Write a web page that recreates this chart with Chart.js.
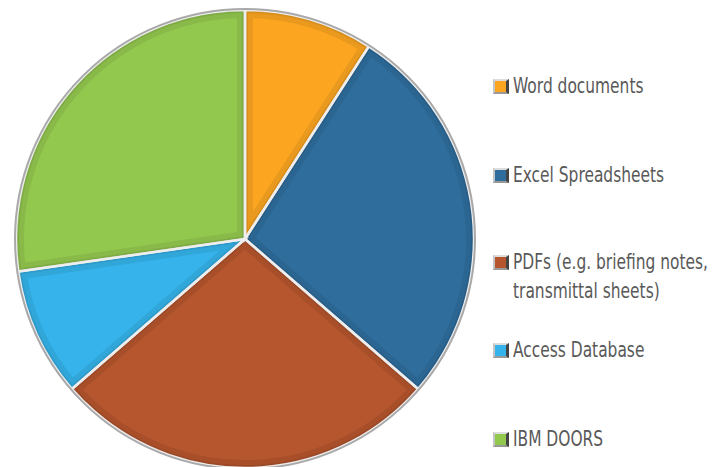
<!DOCTYPE html>
<html>
<head>
<meta charset="utf-8">
<script src="https://cdn.jsdelivr.net/npm/chart.js@4.4.0/dist/chart.umd.min.js"></script>
<style>
html,body{margin:0;padding:0;background:#fff;width:714px;height:467px;overflow:hidden;}
#wrap{position:absolute;left:14px;top:8px;width:462px;height:462px;}
#legend{position:absolute;left:493px;top:0;font-family:"DejaVu Sans",sans-serif;font-size:21px;color:#595959;}
.item{position:absolute;left:0;white-space:nowrap;line-height:29px;}
.mk{position:absolute;left:0;top:7px;width:11px;height:11px;border:2px solid #c4c4c4;border-right-color:#444;border-right-width:3px;border-bottom-color:#999;border-top-color:#ddd;}
.tx{position:absolute;left:20px;top:0;transform:scaleX(0.735);transform-origin:0 0;}
</style>
</head>
<body>
<div id="wrap"><canvas id="c"></canvas></div>
<div id="legend"></div>
<script>
const labels = ['Word documents', 'Excel Spreadsheets', ['PDFs (e.g. briefing notes,', 'transmittal sheets)'], 'Access Database', 'IBM DOORS'];
const values = [1, 3, 3, 1, 3];
const colors = ['#FBA521', '#2F6D9C', '#B5562E', '#35B3EA', '#93C84F'];
const legendTops = [72, 161, 248, 336, 425];

const bevel = {
  id:'bevel',
  afterDatasetsDraw(chart){
    const ctx = chart.ctx;
    const meta = chart.getDatasetMeta(0);
    let cx, cy, R;
    meta.data.forEach((arc,i)=>{
      const p = arc.getProps(['x','y','startAngle','endAngle','outerRadius'], true);
      cx=p.x; cy=p.y; R=p.outerRadius;
      const path = ()=>{
        ctx.beginPath();
        ctx.moveTo(p.x,p.y);
        ctx.arc(p.x,p.y,p.outerRadius,p.startAngle,p.endAngle);
        ctx.closePath();
      };
      ctx.save();
      path();
      ctx.clip();
      path();
      ctx.lineJoin='miter';
      ctx.lineWidth=16;
      ctx.strokeStyle='rgba(0,0,0,0.07)';
      ctx.stroke();
      ctx.lineWidth=6;
      ctx.strokeStyle='rgba(0,0,0,0.07)';
      ctx.stroke();
      ctx.restore();
      ctx.save();
      path();
      ctx.lineWidth=2.5;
      ctx.strokeStyle='#eeeeee';
      ctx.stroke();
      ctx.restore();
    });
    ctx.save();
    ctx.beginPath();
    ctx.arc(cx,cy,R+1,0,Math.PI*2);
    ctx.lineWidth=2;
    ctx.strokeStyle='#a9a9a9';
    ctx.stroke();
    ctx.restore();
  }
};

new Chart(document.getElementById('c'), {
  type:'pie',
  data:{
    labels: labels,
    datasets:[{
      data: values,
      backgroundColor: colors,
      borderWidth: 0
    }]
  },
  options:{
    responsive:true,
    maintainAspectRatio:false,
    animation:false,
    layout:{padding:2},
    plugins:{legend:{display:false}, tooltip:{enabled:false}}
  },
  plugins:[bevel]
});

const lg = document.getElementById('legend');
labels.forEach((l,i)=>{
  const d = document.createElement('div');
  d.className='item';
  d.style.top = legendTops[i]+'px';
  const m = document.createElement('div');
  m.className='mk';
  m.style.background = colors[i];
  const t = document.createElement('div');
  t.className='tx';
  t.innerHTML = (Array.isArray(l)?l:[l]).join('<br>');
  d.appendChild(m); d.appendChild(t);
  lg.appendChild(d);
});
</script>
</body>
</html>
